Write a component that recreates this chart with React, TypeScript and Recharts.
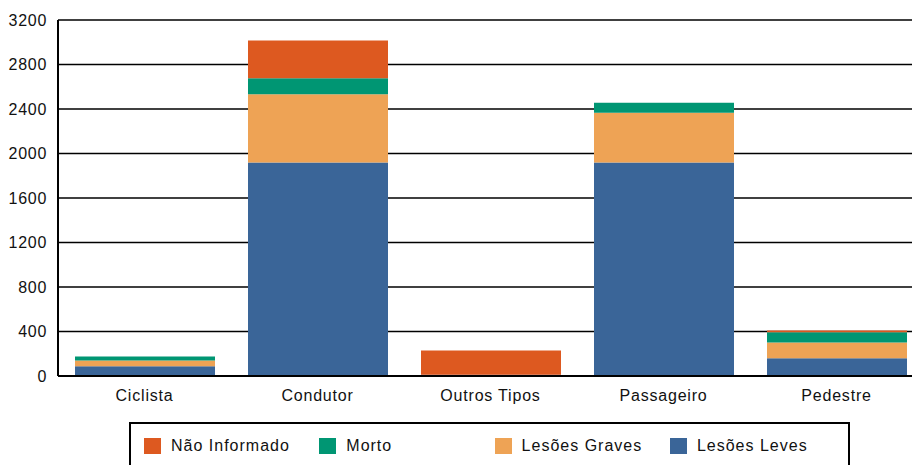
import React from 'react';
import { BarChart, Bar, XAxis, YAxis, CartesianGrid } from 'recharts';

const categories = ['Ciclista', 'Condutor', 'Outros Tipos', 'Passageiro', 'Pedestre'];
const lesoesLeves = [88, 1920, 12, 1920, 160];
const lesoesGraves = [51, 613, 0, 447, 141];
const morto = [36, 144, 0, 89, 93];
const naoInformado = [0, 339, 217, 0, 15];
const yTicks = [0, 400, 800, 1200, 1600, 2000, 2400, 2800, 3200];

const series = [
  { key: 'leves', name: 'Lesões Leves', color: '#3A6598', values: lesoesLeves },
  { key: 'graves', name: 'Lesões Graves', color: '#EEA355', values: lesoesGraves },
  { key: 'morto', name: 'Morto', color: '#009673', values: morto },
  { key: 'ni', name: 'Não Informado', color: '#DD5920', values: naoInformado },
];

const legendOrder = ['ni', 'morto', 'graves', 'leves'];

const data = categories.map((c, i) => {
  const row: Record<string, any> = { name: c };
  series.forEach((s) => (row[s.key] = s.values[i]));
  return row;
});

const FONT = '"Liberation Sans", Arial, sans-serif';

export default function App() {
  const legendItems = legendOrder.map((k) => series.find((s) => s.key === k)!);
  return (
    <div style={{ position: 'absolute', left: 0, top: 0, width: 912, height: 465, background: '#fff', fontFamily: FONT, overflow: 'hidden' }}>
      <BarChart
        width={930}
        height={465}
        data={data}
        margin={{ top: 20, right: 7, left: 0, bottom: 59 }}
        barSize={140}
      >
        <CartesianGrid vertical={false} stroke="#000" strokeWidth={1.5} />
        <XAxis
          dataKey="name"
          height={30}
          tickLine={false}
          tickSize={0}
          tickMargin={14}
          axisLine={{ stroke: '#000', strokeWidth: 2 }}
          tick={{ fill: '#111', fontSize: 16, fontFamily: FONT, letterSpacing: 0.8 }}
          interval={0}
        />
        <YAxis
          width={58}
          domain={[0, 3200]}
          ticks={yTicks}
          tickLine={false}
          tickSize={0}
          tickMargin={11}
          axisLine={{ stroke: '#000', strokeWidth: 2 }}
          tick={{ fill: '#111', fontSize: 16, fontFamily: FONT, letterSpacing: 0.7 }}
          interval={0}
        />
        {series.map((s) => (
          <Bar key={s.key} dataKey={s.key} name={s.name} stackId="a" fill={s.color} isAnimationActive={false} />
        ))}
      </BarChart>
      <div
        style={{
          position: 'absolute',
          left: 129,
          top: 422,
          width: 721,
          height: 60,
          border: '2px solid #000',
          boxSizing: 'border-box',
        }}
      >
        {legendItems.map((s, i) => (
          <div key={s.key} style={{ position: 'absolute', left: 13 + i * 175.3, top: 14, display: 'flex', alignItems: 'center' }}>
            <div style={{ width: 17, height: 16, background: s.color }} />
            <span style={{ marginLeft: 10, fontSize: 16, color: '#111', letterSpacing: 1, lineHeight: '16px' }}>{s.name}</span>
          </div>
        ))}
      </div>
    </div>
  );
}
